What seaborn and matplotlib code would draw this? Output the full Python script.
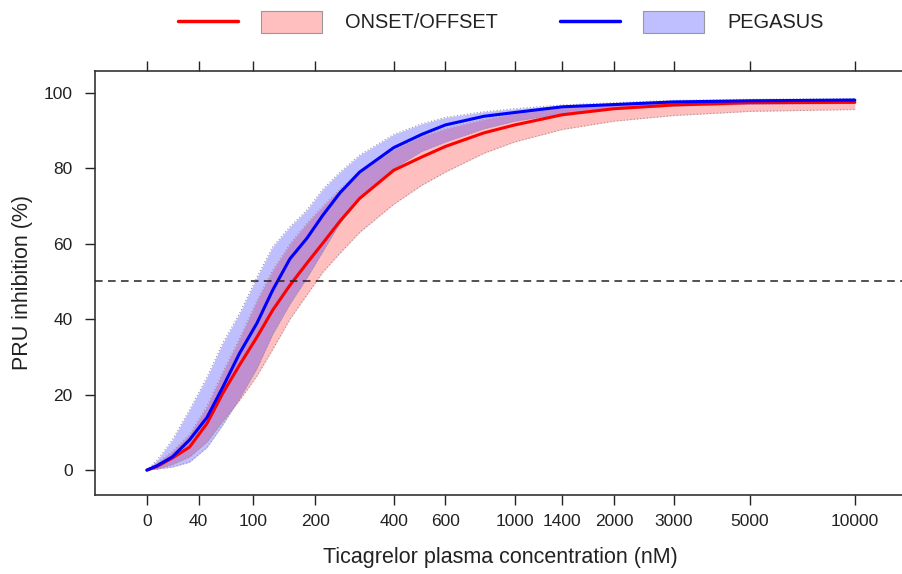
import numpy as np
import pandas as pd
import matplotlib
matplotlib.use("Agg")
import matplotlib.pyplot as plt
import seaborn as sns
from matplotlib.patches import Rectangle
from matplotlib.lines import Line2D

# ---- data ----
conc = [0, 7, 18, 32, 48, 64, 83, 105, 127, 154, 184, 215, 252, 300, 400, 500, 600,
        800, 1000, 1400, 2000, 3000, 5000, 10000]

onset_med = [0, 1.0, 3.2, 6.1, 12.4, 20.4, 27.9, 35.3, 42.4, 49, 54.9, 60.2, 66, 72, 79.5, 83, 85.8,
             89.4, 91.5, 94.2, 95.8, 96.8, 97.4, 97.5]
onset_lo  = [0, 0.3, 1.5, 3.5, 7.5, 13, 18.5, 25, 32, 40, 46.5, 52.5, 57.5, 63, 70.5, 75.5, 79,
             84, 87, 90.3, 92.5, 94, 95.1, 95.6]
onset_hi  = [0, 2.0, 5.0, 9.5, 17, 26, 35, 45, 53, 60, 65.5, 70, 74.5, 79, 85, 88.5, 90.5,
             93, 94.5, 96, 97, 97.6, 98, 98.2]

peg_med = [0, 1.2, 3.5, 8, 14, 22, 31, 39, 47.7, 56, 61.5, 67.6, 73.5, 79, 85.5, 89, 91.5,
           93.8, 94.8, 96.3, 96.9, 97.6, 97.9, 98.1]
peg_lo  = [0, 0.3, 0.8, 2.1, 6, 12, 19, 27, 36, 44, 51, 58, 65.5, 72, 80, 84.5, 87,
           90.5, 92.5, 94.5, 95.7, 96.5, 97, 97.2]
peg_hi  = [0, 2.7, 8, 16, 24.7, 33.7, 41.6, 51.2, 59.2, 64.5, 69, 74.5, 79, 83.5, 89, 91.8, 93.5,
           95, 95.8, 96.8, 97.4, 98, 98.3, 98.5]

xticks = [0, 40, 100, 200, 400, 600, 1000, 1400, 2000, 3000, 5000, 10000]
yticks = [0, 20, 40, 60, 80, 100]
series_names = ["ONSET/OFFSET", "PEGASUS"]
line_colors = ["#FF0000", "#0000FF"]
fill_colors = ["#FF0000", "#0000FF"]

df = pd.concat([
    pd.DataFrame({"conc": conc, "inh": onset_med, "study": series_names[0]}),
    pd.DataFrame({"conc": conc, "inh": peg_med, "study": series_names[1]}),
])

sns.set_style("ticks")
plt.rcParams["font.family"] = ["Liberation Sans", "DejaVu Sans"]

fig = plt.figure(figsize=(9.02, 5.74), dpi=100)
ax = fig.add_axes([95 / 902, 1 - 495 / 574, 811 / 902, (495 - 71) / 574])

def fwd(x):
    return np.log10(np.maximum(np.asarray(x, dtype=float) + 100.0, 1e-9))

def inv(t):
    return 10.0 ** np.asarray(t, dtype=float) - 100.0

ax.set_xscale("function", functions=(fwd, inv))

# bands
for lo, hi, fc in [(onset_lo, onset_hi, fill_colors[0]), (peg_lo, peg_hi, fill_colors[1])]:
    ax.fill_between(conc, lo, hi, color=fc, alpha=0.25, linewidth=0, zorder=1)
    ax.plot(conc, lo, color="#999999", lw=0.8, ls=(0, (1, 2)), zorder=2)
    ax.plot(conc, hi, color="#999999", lw=0.8, ls=(0, (1, 2)), zorder=2)

sns.lineplot(data=df, x="conc", y="inh", hue="study", palette=dict(zip(series_names, line_colors)),
             linewidth=2.2, legend=False, ax=ax, zorder=3, estimator=None)

ax.axhline(50, color="#222222", lw=1.1, ls=(0, (5, 3.5)), zorder=4)

ax.set_xlim(inv(1.853), inv(1.853 + 811 / 353.2))
ax.set_ylim(-6.6, 105.8)
ax.set_xticks(xticks)
ax.set_xticklabels([str(v) for v in xticks])
ax.set_yticks(yticks)
ax.set_yticklabels([str(v) for v in yticks])
ax.xaxis.set_minor_locator(matplotlib.ticker.NullLocator())
ax.tick_params(axis="x", which="both", top=True, labeltop=False, direction="out", length=7,
               width=1, color="#222222", labelsize=12.5, pad=7, labelcolor="#222222")
ax.tick_params(axis="y", direction="out", length=7, width=1, color="#222222",
               labelsize=12.5, pad=9, labelcolor="#222222")
for s in ax.spines.values():
    s.set_color("#333333")
    s.set_linewidth(1.2)
    s.set_visible(True)

ax.set_xlabel("Ticagrelor plasma concentration (nM)", fontsize=15.5, color="#222222", labelpad=13)
ax.set_ylabel("PRU inhibition (%)", fontsize=15.5, color="#222222", labelpad=7.5)

# legend at top (manual, in figure coordinates)
def fx(px):
    return px / 902

def fy(py):
    return 1 - py / 574

for i, (lx, bx, tx) in enumerate([(178, 261, 345), (560, 643, 727)]):
    fig.add_artist(Line2D([fx(lx), fx(lx + 60)], [fy(21), fy(21)], color=line_colors[i], lw=2.5))
    fig.add_artist(Rectangle((fx(bx), fy(33)), fx(61), 22 / 574, facecolor=fill_colors[i],
                             alpha=0.25, edgecolor="none"))
    fig.add_artist(Rectangle((fx(bx), fy(33)), fx(61), 22 / 574, facecolor="none",
                             edgecolor="#999999", lw=0.8))
    fig.text(fx(tx), fy(22), series_names[i], fontsize=14.4, color="#222222", va="center", ha="left")

fig.savefig("out.png", dpi=100)
